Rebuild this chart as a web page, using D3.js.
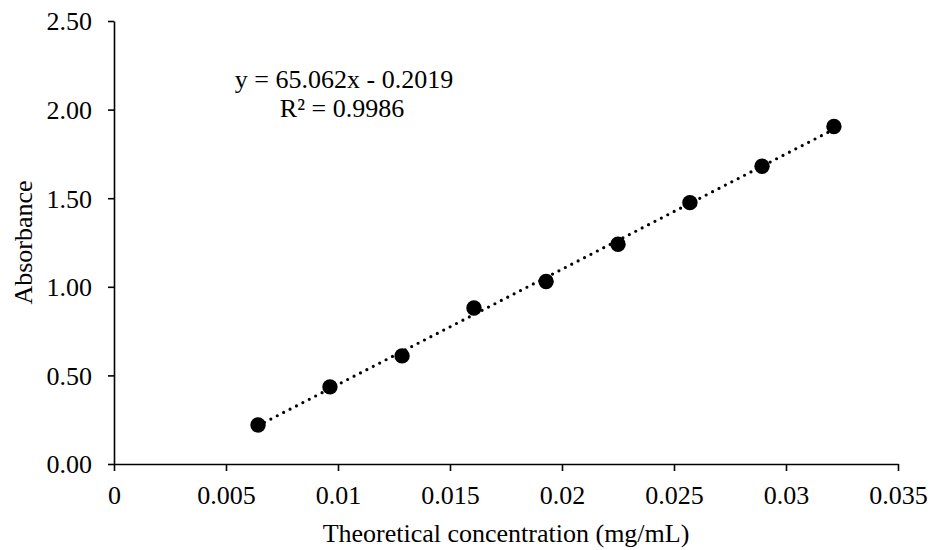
<!DOCTYPE html>
<html><head><meta charset="utf-8">
<script src="https://cdn.jsdelivr.net/npm/d3@7"></script>
<style>body{margin:0;background:#fff}svg text{font-family:"Liberation Serif","Times New Roman",serif;fill:#000}</style>
</head><body>
<svg id="c" width="932" height="550"></svg>
<script>
const concentration = [0.00643, 0.00964, 0.01286, 0.01607, 0.01929, 0.0225, 0.02571, 0.02893, 0.03214];
const absorbance = [0.22, 0.435, 0.61, 0.88, 1.03, 1.24, 1.475, 1.68, 1.905];
const xTicks = [0, 0.005, 0.01, 0.015, 0.02, 0.025, 0.03, 0.035];
const xTickLabels = ["0", "0.005", "0.01", "0.015", "0.02", "0.025", "0.03", "0.035"];
const yTicks = [0, 0.5, 1.0, 1.5, 2.0, 2.5];
const yTickLabels = ["0.00", "0.50", "1.00", "1.50", "2.00", "2.50"];
const slope = 65.062, intercept = -0.2019;
const eqLines = ["y = 65.062x - 0.2019", "R² = 0.9986"];

const svg = d3.select("#c");
const x = d3.scaleLinear().domain([0, 0.035]).range([114, 898]);
const y = d3.scaleLinear().domain([0, 2.5]).range([464, 21]);
const fs = 26;

const xAxis = svg.append("g").attr("transform", `translate(0,${y(0)})`)
  .call(d3.axisBottom(x).tickValues(xTicks).tickFormat((d,i)=>xTickLabels[i]).tickSizeInner(7).tickSizeOuter(0).tickPadding(6));
const yAxis = svg.append("g").attr("transform", `translate(${x(0)},0)`)
  .call(d3.axisLeft(y).tickValues(yTicks).tickFormat((d,i)=>yTickLabels[i]).tickSizeInner(6).tickSizeOuter(0).tickPadding(16));
[xAxis, yAxis].forEach(g=>{
  g.selectAll("path,line").attr("stroke","#000").attr("stroke-width",1.6);
  g.selectAll("text").style("font-size", fs+"px").attr("fill","#000");
});
xAxis.selectAll("text").attr("dy", null).attr("y", 40);
yAxis.selectAll("text").attr("dy", "0.34em");

// trendline
const x0 = concentration[0], x1 = concentration[concentration.length-1];
svg.append("line")
  .attr("x1", x(x0)).attr("y1", y(slope*x0+intercept))
  .attr("x2", x(x1)).attr("y2", y(slope*x1+intercept))
  .attr("stroke","#000").attr("stroke-width",3.2)
  .attr("stroke-linecap","round").attr("stroke-dasharray","0,7.2");

svg.append("g").selectAll("circle").data(concentration).join("circle")
  .attr("cx", d=>x(d)).attr("cy", (d,i)=>y(absorbance[i])).attr("r", 7.7).attr("fill","#000");

// equation
svg.append("text").attr("x",344).attr("y",88).attr("text-anchor","middle").style("font-size",fs+"px").text(eqLines[0]);
svg.append("text").attr("x",342).attr("y",117).attr("text-anchor","middle").style("font-size",fs+"px").text(eqLines[1]);

// axis titles
svg.append("text").attr("x",506).attr("y",542).attr("text-anchor","middle").style("font-size",fs+"px").text("Theoretical concentration (mg/mL)");
svg.append("text").attr("transform","translate(32,242.5) rotate(-90)").attr("text-anchor","middle").style("font-size",fs+"px").text("Absorbance");
</script>
</body></html>
